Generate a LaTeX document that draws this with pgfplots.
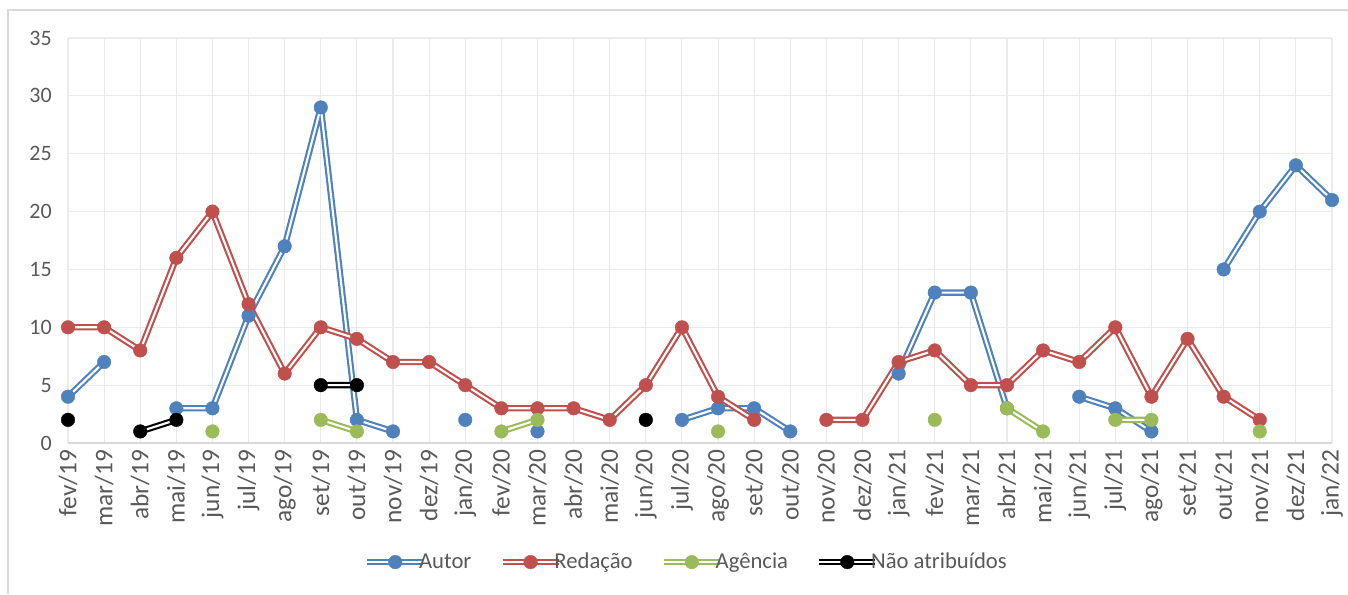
\documentclass[border=0pt]{standalone}
\usepackage{pgfplots}
\pgfplotsset{compat=1.18}
\usepackage{fontspec}
\setmainfont{Carlito}
\definecolor{cAutor}{HTML}{4F81BD}
\definecolor{cRed}{HTML}{C0504D}
\definecolor{cAg}{HTML}{9BBB59}
\definecolor{txt}{HTML}{595959}
\definecolor{gridc}{HTML}{EBEBEB}
\definecolor{axc}{HTML}{D9D9D9}
\tikzset{dbl/.style={line width=1.6pt, double=white, double distance=1.6pt, line join=round, mark=*, mark size=5.1pt, mark options={solid, line width=0.3pt, fill=#1, draw=#1}, draw=#1}}
\begin{document}
\begin{tikzpicture}
\useasboundingbox (-51pt,-113.25pt) rectangle (960pt,332.25pt);
\draw[axc, line width=0.8pt] (-45pt,-113.25pt) -- (-45pt,324.75pt) -- (960pt,324.75pt);
\begin{axis}[
  at={(0,0)}, anchor=south west,
  scale only axis, width=948pt, height=303.75pt,
  xmin=0, xmax=35, ymin=0, ymax=35,
  clip=false,
  unbounded coords=jump,
  xtick={0,...,35},
  xticklabels={fev/19,mar/19,abr/19,mai/19,jun/19,jul/19,ago/19,set/19,out/19,nov/19,dez/19,jan/20,fev/20,mar/20,abr/20,mai/20,jun/20,jul/20,ago/20,set/20,out/20,nov/20,dez/20,jan/21,fev/21,mar/21,abr/21,mai/21,jun/21,jul/21,ago/21,set/21,out/21,nov/21,dez/21,jan/22},
  xticklabel style={rotate=90, anchor=east, font=\fontsize{19}{21}\selectfont, text=txt, inner sep=5pt},
  ytick={0,5,...,35},
  yticklabel style={font=\fontsize{16.5}{19}\selectfont, text=txt, inner sep=12pt},
  /pgf/number format/assume math mode=true,
  major tick length=0pt,
  xtick pos=bottom, ytick pos=left,
  grid=major,
  major grid style={gridc, line width=0.8pt},
  axis line style={draw=none},
  axis x line*=bottom,
  x axis line style={draw=axc, line width=1pt},
  axis y line*=left,
  y axis line style={draw=none},
  legend style={at={(0.489,-0.294)}, anchor=center, draw=none, fill=none, legend columns=4,
    font=\fontsize{17}{19}\selectfont, text=txt,
    nodes={inner xsep=1pt},
    /tikz/every odd column/.style={column sep=0pt},
    /tikz/every even column/.style={column sep=20pt}},
  legend cell align=left,
  legend image code/.code={\draw[mark repeat=2,mark phase=2,#1] plot coordinates {(0pt,0pt)(21pt,0pt)(42pt,0pt)};},
]
\addplot[dbl=cAutor] coordinates {
(0,4)(1,7)(2,nan)(3,3)(4,3)(5,11)(6,17)(7,29)(8,2)(9,1)(10,nan)(11,2)(12,nan)(13,1)(14,nan)(17,2)(18,3)(19,3)(20,1)(21,nan)(23,6)(24,13)(25,13)(26,3)(27,nan)(28,4)(29,3)(30,1)(31,nan)(32,15)(33,20)(34,24)(35,21)};
\addlegendentry{\hspace*{-6.5pt}Autor}
\addplot[dbl=cRed] coordinates {
(0,10)(1,10)(2,8)(3,16)(4,20)(5,12)(6,6)(7,10)(8,9)(9,7)(10,7)(11,5)(12,3)(13,3)(14,3)(15,2)(16,5)(17,10)(18,4)(19,2)(20,nan)(21,2)(22,2)(23,7)(24,8)(25,5)(26,5)(27,8)(28,7)(29,10)(30,4)(31,9)(32,4)(33,2)};
\addlegendentry{\hspace*{-6.5pt}Redação}
\addplot[dbl=cAg] coordinates {
(4,1)(5,nan)(7,2)(8,1)(9,nan)(12,1)(13,2)(14,nan)(18,1)(19,nan)(24,2)(25,nan)(26,3)(27,1)(28,nan)(29,2)(30,2)(31,nan)(33,1)};
\addlegendentry{\hspace*{-6.5pt}Agência}
\addplot[dbl=black] coordinates {
(0,2)(1,nan)(2,1)(3,2)(4,nan)(7,5)(8,5)(9,nan)(16,2)};
\addlegendentry{\hspace*{-6.5pt}Não atribuídos}
\end{axis}
\end{tikzpicture}
\end{document}
